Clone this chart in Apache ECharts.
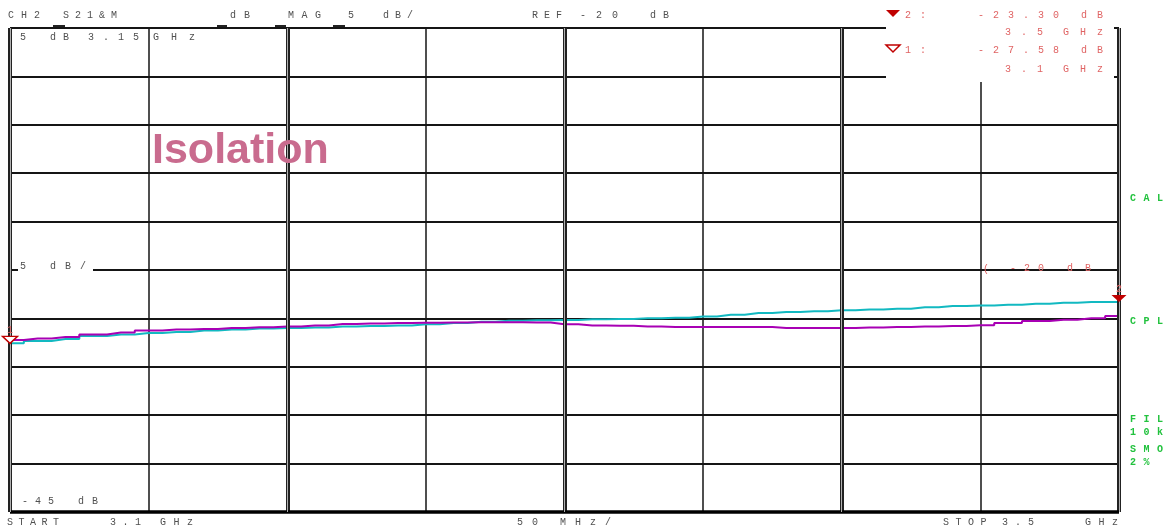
<!DOCTYPE html>
<html><head><meta charset="utf-8">
<script src="https://cdn.jsdelivr.net/npm/echarts@6/dist/echarts.min.js"></script>
<style>html,body{margin:0;padding:0;background:#fff;}#c{width:1165px;height:527px;}</style>
</head><body><div id="c"></div>
<script>
// ---- data ----
const freqGHz = [3.10,3.11,3.12,3.13,3.14,3.15,3.16,3.17,3.18,3.19,3.20,3.21,3.22,3.23,3.24,3.25,3.26,3.27,3.28,3.29,3.30,3.31,3.32,3.33,3.34,3.35,3.36,3.37,3.38,3.39,3.40,3.41,3.42,3.43,3.44,3.45,3.46,3.47,3.48,3.49,3.50];
const traceCyan = [-27.58,-27.33,-27.13,-26.82,-26.66,-26.51,-26.40,-26.25,-26.15,-26.04,-25.99,-25.94,-25.84,-25.79,-25.73,-25.61,-25.48,-25.34,-25.24,-25.20,-25.17,-25.09,-25.06,-24.99,-24.93,-24.80,-24.63,-24.44,-24.34,-24.26,-24.16,-24.08,-24.00,-23.85,-23.72,-23.67,-23.58,-23.48,-23.38,-23.31,-23.30];
const traceMagenta = [-27.23,-27.08,-26.92,-26.66,-26.46,-26.25,-26.15,-26.10,-25.99,-25.92,-25.84,-25.73,-25.58,-25.53,-25.48,-25.45,-25.42,-25.40,-25.40,-25.42,-25.61,-25.73,-25.75,-25.84,-25.89,-25.89,-25.89,-25.89,-25.99,-25.99,-25.99,-25.94,-25.89,-25.84,-25.79,-25.70,-25.48,-25.27,-25.13,-24.99,-24.75];
const markerNames = ['2','1'];
const markerFreqs = [3.5, 3.1];
const markerVals = [-23.30, -27.58];
const doubleLineFreqs = [3.1, 3.2, 3.3, 3.4, 3.5];
const xMin = 3.1, xMax = 3.5, xStep = 0.05;
const yMin = -45, yMax = 5, yStep = 5;

// ---- helpers ----
const MONO = 'Liberation Mono';
function spaced(str, x, y, pitch, color, size, weight) {
  const out = [];
  for (let i = 0; i < str.length; i++) {
    out.push({type:'text', x: x + i*pitch, y: y, z: 30, silent:true,
      style:{text: str[i], fill: color, font: (weight||'normal') + ' ' + (size||10) + 'px "' + MONO + '"',
        textAlign:'left', textVerticalAlign:'middle', verticalAlign:'middle'}});
  }
  return out;
}
const GRAY = '#505050', RED = '#e06464', GREEN = '#22c23e';
let g = [];
// white patches
g.push({type:'rect', shape:{x:886,y:0,width:228,height:82}, style:{fill:'#fff'}, z:20, silent:true});
g.push({type:'rect', shape:{x:18,y:259,width:75,height:16}, style:{fill:'#fff'}, z:20, silent:true});
// small ticks above the top line
[[53,12],[217,10],[275,11],[333,12]].forEach(t=>g.push({type:'rect', shape:{x:t[0],y:25,width:t[1],height:2}, style:{fill:'#222'}, z:21, silent:true}));
// top row
g = g.concat(spaced('CH2',8,15,13,GRAY), spaced('S21&M',63,15,12,GRAY), spaced('dB',230,15,14,GRAY),
  spaced('MAG',288,15,13.5,GRAY), spaced('5',348,15,12,GRAY), spaced('dB/',383,15,12,GRAY),
  spaced('REF',532,15,12,GRAY), spaced('-20',580,15,16,GRAY), spaced('dB',650,15,13,GRAY));
// second row
g = g.concat(spaced('5',20,37,12,GRAY), spaced('dB',50,37,13,GRAY), spaced('3.15',88,37,15,GRAY), spaced('GHz',153,37,18,GRAY));
// 5 dB/ label
g = g.concat(spaced('5',20,266,12,GRAY), spaced('dB/',50,266,15,GRAY));
// -45 dB
g = g.concat(spaced('-45',22,501,13,GRAY), spaced('dB',78,501,14,GRAY));
// bottom row
g = g.concat(spaced('START',7,522,11.5,GRAY), spaced('3.1',110,522,12.5,GRAY), spaced('GHz',160,522,13.5,GRAY),
  spaced('50',517,522,15,GRAY), spaced('MHz/',560,522,15,GRAY),
  spaced('STOP',943,522,12.5,GRAY), spaced('3.5',1002,522,13,GRAY), spaced('GHz',1085,522,13.5,GRAY));
// marker readouts
const rowY = [[15,32],[50,69]];
markerNames.forEach((n,i)=>{
  const y1 = rowY[i][0], y2 = rowY[i][1];
  g.push({type:'polygon', shape:{points:[[886,y1-5],[900,y1-5],[893,y1+2]]},
    style: i===0 ? {fill:'#c00000'} : {fill:'#fff', stroke:'#c00000', lineWidth:1.5}, z:30, silent:true});
  g = g.concat(spaced(n + ':', 905, y1, 15, RED), spaced(markerVals[i].toFixed(2), 978, y1, 15, RED), spaced('dB',1081,y1,16,RED));
  g = g.concat(spaced(String(markerFreqs[i]), 1005, y2, 16, RED), spaced('GHz', 1063, y2, 17, RED));
});
// ref label
g = g.concat(spaced('(',983,269,10,RED), spaced('-20',1010,268,14,RED), spaced('dB',1067,268,18,RED));
// green status
g = g.concat(spaced('CAL',1130,198,13.5,GREEN,10,'bold'), spaced('CPL',1130,321,13.5,GREEN,10,'bold'),
  spaced('FIL',1130,419,13.5,GREEN,10,'bold'), spaced('10k',1130,432,13.5,GREEN,10,'bold'),
  spaced('SMO',1130,449,13.5,GREEN,10,'bold'), spaced('2%',1130,462,13.5,GREEN,10,'bold'));
// title
g.push({type:'text', x:152, y:151, z:30, silent:true, style:{text:'Isolation', fill:'#c96b8e',
  font:'bold 43px "Liberation Sans"', textAlign:'left', textVerticalAlign:'middle', verticalAlign:'middle'}});

const markData = markerNames.map((n,i)=>({
  coord:[markerFreqs[i], markerVals[i]],
  symbol:'path://M0,0L16,0L8,7Z', symbolSize:[15,7], symbolOffset:[0,-3.5],
  itemStyle: i===0 ? {color:'#c00000'} : {color:'#ffffff', borderColor:'#c00000', borderWidth:1.5},
  label:{show:true, formatter:n, position:'top', distance:1, color:RED, fontSize:10, fontFamily:MONO}
}));

const option = {
  animation:false,
  backgroundColor:'#fff',
  grid:{left:10, right:46, top:28, bottom:15},
  xAxis:{type:'value', min:xMin, max:xMax, interval:xStep,
    axisLabel:{show:false}, axisTick:{show:false}, axisLine:{show:false},
    splitLine:{show:true, lineStyle:{color:'#151515', width:1.5}}},
  yAxis:{type:'value', min:yMin, max:yMax, interval:yStep,
    axisLabel:{show:false}, axisTick:{show:false}, axisLine:{show:false},
    splitLine:{show:true, lineStyle:{color:'#151515', width:2}}},
  series:[
    {type:'line', data:[], z:1, silent:true,
      markLine:{silent:true, symbol:['none','none'], label:{show:false}, animation:false,
        lineStyle:{color:'#222', width:4, type:'solid'},
        data: doubleLineFreqs.map(f=>({xAxis:f})).concat([{yAxis:yMin, lineStyle:{color:'#000', width:3.5, type:'solid'}}])}},
    {type:'line', data:[], z:1, silent:true,
      markLine:{silent:true, symbol:['none','none'], label:{show:false}, animation:false,
        lineStyle:{color:'#b0b0b0', width:1, type:'solid'},
        data: doubleLineFreqs.map(f=>({xAxis:f}))}},
    {name:'S21 B', type:'line', data: freqGHz.map((f,i)=>[f, traceCyan[i]]), step:'middle', showSymbol:false, symbol:'none',
      lineStyle:{color:'#12b9c1', width:2}, z:2,
      markPoint:{animation:false, z:5, data: markData}},
    {name:'S21 A', type:'line', data: freqGHz.map((f,i)=>[f, traceMagenta[i]]), step:'middle', showSymbol:false, symbol:'none',
      lineStyle:{color:'#a800b4', width:2}, z:3}
  ],
  graphic: g
};
const chart = echarts.init(document.getElementById('c'), null, {renderer:'canvas'});
chart.setOption(option);
</script></body></html>
